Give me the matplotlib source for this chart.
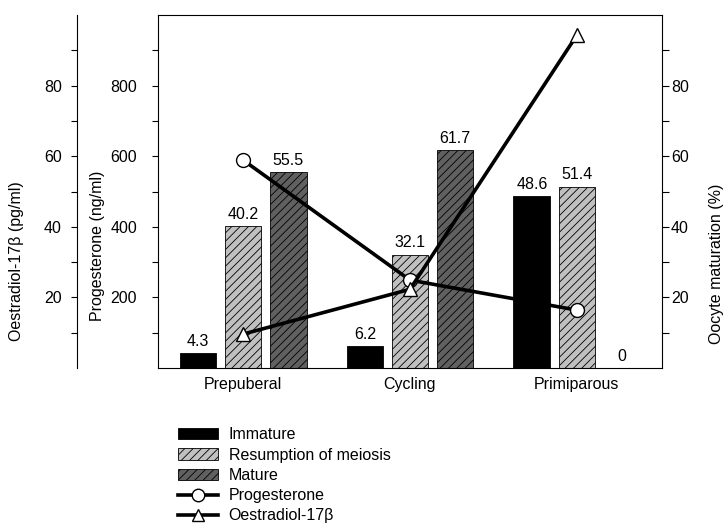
import matplotlib
matplotlib.use("Agg")
import matplotlib.pyplot as plt
from matplotlib.patches import Patch
from matplotlib.lines import Line2D
import numpy as np

plt.rcParams["font.family"] = ["Liberation Sans", "DejaVu Sans"]
plt.rcParams["font.size"] = 11.5
plt.rcParams["hatch.linewidth"] = 0.6

groups = ["Prepuberal", "Cycling", "Primiparous"]
immature = [4.3, 6.2, 48.6]
resumption = [40.2, 32.1, 51.4]
mature = [55.5, 61.7, 0]
progesterone = [589, 249, 164]   # ng/ml
oestradiol = [9.6, 22.3, 94.3]   # pg/ml

W, H = 724, 524
fig = plt.figure(figsize=(W / 100, H / 100), dpi=100)
ax = fig.add_axes([158 / W, (H - 368) / H, 504 / W, 353 / H])

x = np.arange(len(groups))
bw, off = 0.22, 0.27
bar_sets = [
    (immature, "black", None, "Immature"),
    (resumption, "#c0c0c0", "////", "Resumption of meiosis"),
    (mature, "#606060", "////", "Mature"),
]
for i, (vals, col, hatch, lab) in enumerate(bar_sets):
    xs = x + (i - 1) * off
    ax.bar(xs, vals, bw, color=col, edgecolor="black", linewidth=0.6, hatch=hatch)
    for xi, v in zip(xs, vals):
        ax.text(xi, v + 1.2, f"{v:g}", ha="center", va="bottom")

ax.set_xlim(-0.51, 2.51)
ax.set_ylim(0, 100)

# progesterone axis (inner left)
axp = ax.twinx()
axp.set_ylim(0, 1000)
axp.yaxis.tick_left()
axp.set_yticks([200, 400, 600, 800])
axp.set_yticks(np.arange(100, 1000, 200), minor=True)
axp.tick_params(axis="y", which="both", direction="out", length=4, width=0.8, pad=11)
for s in ["top", "right", "bottom"]:
    axp.spines[s].set_visible(False)
axp.spines["left"].set_linewidth(0.8)
axp.plot(x, progesterone, color="black", lw=2.6, marker="o", ms=10,
         mfc="white", mec="black", mew=1.0, zorder=5)
axp.text(-0.121, 0.346, "Progesterone (ng/ml)", transform=ax.transAxes,
         rotation=90, ha="center", va="center")

# oestradiol axis (outer left)
axe = ax.twinx()
axe.set_ylim(0, 100)
axe.yaxis.tick_left()
axe.spines["left"].set_position(("axes", -81 / 504))
axe.set_yticks([20, 40, 60, 80])
axe.set_yticks(np.arange(10, 100, 20), minor=True)
axe.tick_params(axis="y", which="both", direction="out", length=4.5, width=0.8, pad=6.5)
for s in ["top", "right", "bottom"]:
    axe.spines[s].set_visible(False)
axe.spines["left"].set_linewidth(0.8)
axe.plot(x, oestradiol, color="black", lw=2.6, marker="^", ms=10,
         mfc="white", mec="black", mew=1.0, zorder=5, clip_on=False)
axe.text(-0.280, 0.303, "Oestradiol-17β (pg/ml)", transform=ax.transAxes,
         rotation=90, ha="center", va="center")

# maturation axis (right) — set after twinx, which moves ticks left
ax.yaxis.tick_right()
ax.set_yticks([20, 40, 60, 80])
ax.set_yticks(np.arange(10, 100, 20), minor=True)
ax.tick_params(axis="y", which="both", direction="out", length=5, width=0.8, pad=1.5)
ax.set_xticks(x)
ax.set_xticklabels(groups)
ax.tick_params(axis="x", length=0, pad=6.5)
ax.spines["left"].set_visible(False)
for s in ["top", "right", "bottom"]:
    ax.spines[s].set_linewidth(0.8)
ax.text(1.109, 0.295, "Oocyte maturation (%)", transform=ax.transAxes,
        rotation=90, ha="center", va="center")

handles = [
    Patch(facecolor="black", edgecolor="black", linewidth=0.6),
    Patch(facecolor="#c0c0c0", edgecolor="black", hatch="////", linewidth=0.6),
    Patch(facecolor="#606060", edgecolor="black", hatch="////", linewidth=0.6),
    Line2D([], [], color="black", lw=2.6, marker="o", ms=9, mfc="white", mec="black"),
    Line2D([], [], color="black", lw=2.6, marker="^", ms=9, mfc="white", mec="black"),
]
labels = [b[3] for b in bar_sets] + ["Progesterone", "Oestradiol-17β"]
fig.legend(handles, labels, loc="upper left", bbox_to_anchor=(172 / W, 1 - 421 / H),
           frameon=False, handlelength=2.5, handleheight=0.7, handletextpad=0.65,
           labelspacing=0.33, borderaxespad=0, numpoints=1)

fig.savefig("out.png", dpi=100)
